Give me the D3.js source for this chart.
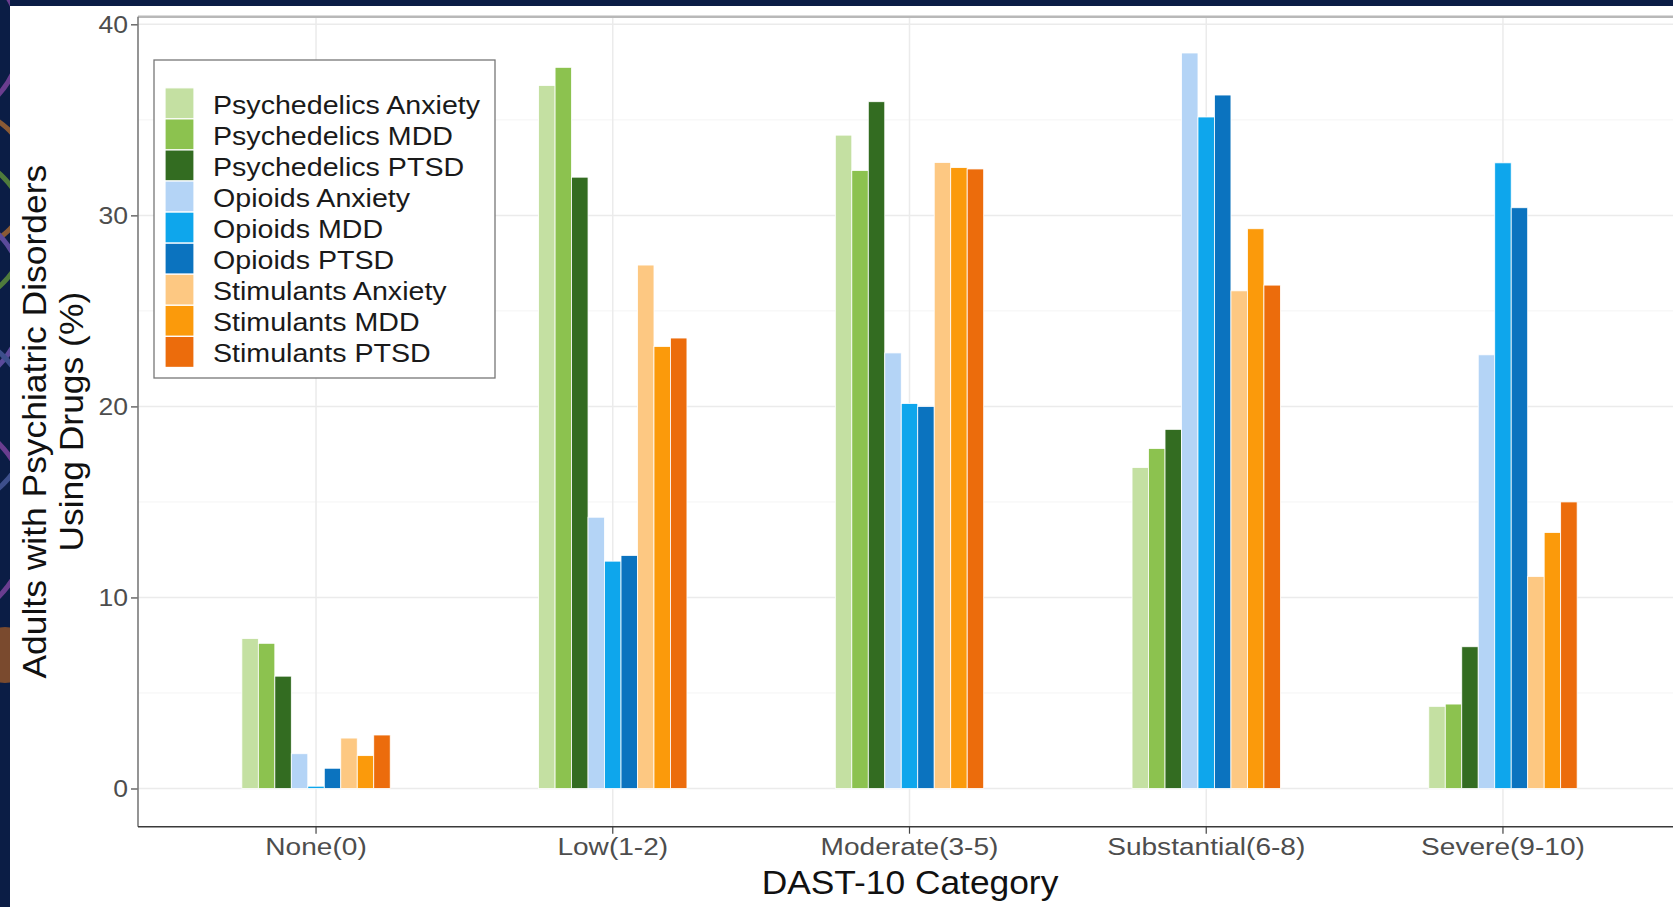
<!DOCTYPE html>
<html lang="en">
<head>
  <meta charset="UTF-8">
  <title>DAST-10 Category - Grouped Bar Chart</title>
  <script src="https://d3js.org/d3.v7.min.js"></script>
  <style>
    html, body { margin: 0; padding: 0; background: #0b1d45; overflow: hidden; }
    text { font-family: "Liberation Sans", Arial, sans-serif; }
  </style>
</head>
<body>
  <div id="chart"></div>

  <script>
    // Categories and series
    const categories = ["None(0)", "Low(1-2)", "Moderate(3-5)", "Substantial(6-8)", "Severe(9-10)"];
    const seriesNames = [
      "Psychedelics Anxiety", "Psychedelics MDD", "Psychedelics PTSD",
      "Opioids Anxiety", "Opioids MDD", "Opioids PTSD",
      "Stimulants Anxiety", "Stimulants MDD", "Stimulants PTSD"
    ];
    const seriesColors = [
      "#c4e0a2", "#8cc24f", "#336c21",
      "#b4d4f6", "#0ea6ec", "#0b73bf",
      "#fdc882", "#fb9a0b", "#ec6c0c"
    ];

    // Values (%) per series, one per category
    const psychedelicsAnxiety = [7.85, 36.8, 34.2, 16.8, 4.3];
    const psychedelicsMDD     = [7.6, 37.75, 32.35, 17.8, 4.42];
    const psychedelicsPTSD    = [5.88, 32.0, 35.95, 18.8, 7.42];
    const opioidsAnxiety      = [1.82, 14.2, 22.8, 38.5, 22.7];
    const opioidsMDD          = [0.12, 11.9, 20.15, 35.15, 32.75];
    const opioidsPTSD         = [1.06, 12.2, 20.0, 36.3, 30.4];
    const stimulantsAnxiety   = [2.64, 27.4, 32.77, 26.05, 11.1];
    const stimulantsMDD       = [1.72, 23.14, 32.5, 29.3, 13.4];
    const stimulantsPTSD      = [2.8, 23.58, 32.43, 26.35, 15.0];

    const yTicks = [0, 10, 20, 30, 40];
    const yMinorTicks = [5, 15, 25, 35];

    const seriesValues = [
      psychedelicsAnxiety, psychedelicsMDD, psychedelicsPTSD,
      opioidsAnxiety, opioidsMDD, opioidsPTSD,
      stimulantsAnxiety, stimulantsMDD, stimulantsPTSD
    ];

    const W = 1673, H = 907;
    const panel = { left: 138, right: 1681, top: 16.7, bottom: 826.7 };

    const svg = d3.select("#chart").append("svg")
      .attr("width", W)
      .attr("height", H)
      .style("display", "block");

    // Slide background: navy frame with a few decorative arcs on the left strip
    svg.append("rect").attr("width", W).attr("height", H).attr("fill", "#0b1d45");
    svg.append("clipPath").attr("id", "strip")
      .append("rect").attr("x", 0).attr("y", 0).attr("width", 10).attr("height", H);
    const deco = svg.append("g").attr("clip-path", "url(#strip)");
    [[-60, 40, 80, "#6a3d8f"], [-40, 180, 70, "#8a5a35"], [-50, 230, 75, "#4f7b3c"],
     [-70, 300, 95, "#5b4a9a"], [-60, 420, 90, "#3d4f8c"], [-80, 520, 110, "#6a3d8f"]]
      .forEach(([cx, cy, r, c]) => {
        deco.append("circle").attr("cx", cx).attr("cy", cy).attr("r", r)
          .attr("fill", "none").attr("stroke", c).attr("stroke-width", 5);
      });
    deco.append("circle").attr("cx", 5).attr("cy", 655).attr("r", 28).attr("fill", "#7a4a2e");
    svg.append("rect").attr("x", 10).attr("y", 6).attr("width", W - 10).attr("height", H - 6)
      .attr("fill", "#ffffff");

    // Scales
    const x0 = d3.scaleBand()
      .domain(categories)
      .range([panel.left, panel.right])
      .paddingInner(0.5)
      .paddingOuter(0.35);

    const x1 = d3.scaleBand()
      .domain(seriesNames)
      .range([0, x0.bandwidth()])
      .padding(0);

    const y = d3.scaleLinear()
      .domain([-2, 40.4])
      .range([panel.bottom, panel.top]);

    const color = d3.scaleOrdinal().domain(seriesNames).range(seriesColors);

    // Grid
    const grid = svg.append("g");
    grid.selectAll(".minor").data(yMinorTicks).enter().append("line")
      .attr("x1", panel.left).attr("x2", W)
      .attr("y1", d => y(d)).attr("y2", d => y(d))
      .attr("stroke", "#f4f4f4").attr("stroke-width", 1);
    grid.selectAll(".major").data(yTicks).enter().append("line")
      .attr("x1", panel.left).attr("x2", W)
      .attr("y1", d => y(d)).attr("y2", d => y(d))
      .attr("stroke", "#ebebeb").attr("stroke-width", 1.5);
    grid.selectAll(".vert").data(categories).enter().append("line")
      .attr("x1", d => x0(d) + x0.bandwidth() / 2).attr("x2", d => x0(d) + x0.bandwidth() / 2)
      .attr("y1", panel.top).attr("y2", panel.bottom)
      .attr("stroke", "#ebebeb").attr("stroke-width", 1.5);

    // Bars
    const groups = svg.selectAll(".cat-group")
      .data(categories)
      .enter().append("g")
        .attr("class", "cat-group")
        .attr("transform", d => "translate(" + x0(d) + ",0)");

    groups.selectAll("rect")
      .data((d, i) => seriesNames.map((s, j) => ({ key: s, value: seriesValues[j][i] })))
      .enter().append("rect")
        .attr("x", d => x1(d.key))
        .attr("y", d => y(d.value))
        .attr("width", x1.bandwidth())
        .attr("height", d => y(0) - y(d.value))
        .attr("fill", d => color(d.key))
        .attr("stroke", "#ffffff")
        .attr("stroke-width", 0.8);

    // Panel border pieces
    svg.append("line").attr("x1", panel.left).attr("x2", W)
      .attr("y1", panel.top).attr("y2", panel.top)
      .attr("stroke", "#b8b8b8").attr("stroke-width", 2.5);

    // Y axis
    const yAxis = svg.append("g")
      .attr("transform", "translate(" + panel.left + ",0)")
      .call(d3.axisLeft(y).tickValues(yTicks).tickSize(7).tickPadding(3));
    yAxis.select(".domain").remove();
    yAxis.append("line").attr("x1", 0).attr("x2", 0)
      .attr("y1", panel.top).attr("y2", panel.bottom)
      .attr("stroke", "#7a7a7a").attr("stroke-width", 1.6);
    yAxis.selectAll(".tick line").attr("stroke", "#444").attr("stroke-width", 1.2);
    yAxis.selectAll(".tick text")
      .attr("fill", "#4d4d4d")
      .style("font-size", "23.5px")
      .attr("x", null).attr("dy", null)
      .attr("dominant-baseline", "central")
      .attr("transform", "translate(-10,0) scale(1.13,1)");

    // X axis
    const xAxis = svg.append("g")
      .attr("transform", "translate(0," + panel.bottom + ")")
      .call(d3.axisBottom(x0).tickSize(7).tickPadding(0));
    xAxis.select(".domain").remove();
    xAxis.append("line").attr("x1", panel.left).attr("x2", W)
      .attr("y1", 0).attr("y2", 0)
      .attr("stroke", "#3a3a3a").attr("stroke-width", 1.6);
    xAxis.selectAll(".tick line").attr("stroke", "#444").attr("stroke-width", 1.2);
    xAxis.selectAll(".tick text")
      .attr("fill", "#4d4d4d")
      .style("font-size", "24px")
      .attr("y", null).attr("dy", null)
      .attr("transform", "translate(0,28.5) scale(1.17,1)");

    // Axis titles
    svg.append("text")
      .attr("transform", "translate(910,894) scale(1.04,1)")
      .attr("text-anchor", "middle")
      .attr("fill", "#111")
      .style("font-size", "34px")
      .text("DAST-10 Category");

    const yMid = (panel.top + panel.bottom) / 2;
    svg.append("text")
      .attr("transform", "translate(46," + yMid + ") rotate(-90) scale(1.09,1)")
      .attr("text-anchor", "middle")
      .attr("fill", "#111")
      .style("font-size", "32.5px")
      .text("Adults with Psychiatric Disorders");
    svg.append("text")
      .attr("transform", "translate(83," + yMid + ") rotate(-90) scale(1.09,1)")
      .attr("text-anchor", "middle")
      .attr("fill", "#111")
      .style("font-size", "32.5px")
      .text("Using Drugs (%)");

    // Legend
    const legend = svg.append("g").attr("transform", "translate(154,60)");
    legend.append("rect")
      .attr("width", 341).attr("height", 318)
      .attr("fill", "#ffffff")
      .attr("stroke", "#777").attr("stroke-width", 1.3);
    const keyStep = 31.07;
    const items = legend.selectAll(".item")
      .data(seriesNames)
      .enter().append("g")
        .attr("class", "item")
        .attr("transform", (d, i) => "translate(11," + (27.8 + i * keyStep) + ")");
    items.append("rect")
      .attr("width", 29).attr("height", keyStep)
      .attr("fill", d => color(d))
      .attr("stroke", "#ffffff").attr("stroke-width", 1.2);
    items.append("text")
      .attr("transform", "translate(48," + (keyStep / 2 + 10.5) + ") scale(1.1,1)")
      .attr("fill", "#1a1a1a")
      .style("font-size", "26px")
      .text(d => d);
  </script>
</body>
</html>
